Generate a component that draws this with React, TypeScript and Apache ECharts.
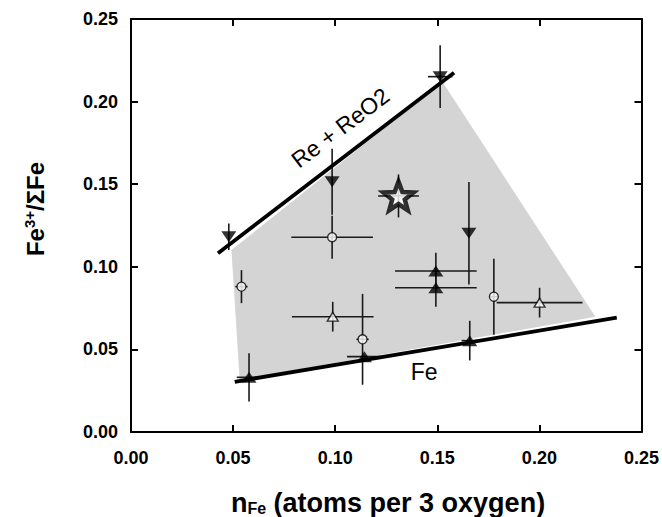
import React, { useEffect, useRef } from "react";
import * as echarts from "echarts";

// Axis ticks
const xTicks = [0, 0.05, 0.1, 0.15, 0.2, 0.25];
const yTicks = [0, 0.05, 0.1, 0.15, 0.2, 0.25];

// Data rows: [nFe, Fe3+/ΣFe, xError, yError]
const filledDown = [
  [0.0479, 0.1182, 0, 0.008],
  [0.1514, 0.2151, 0.006, 0.019],
  [0.0985, 0.1515, 0, 0.02],
  [0.1655, 0.1203, 0, 0.031],
];
const filledUp = [
  [0.1493, 0.0975, 0.02, 0.011],
  [0.1493, 0.0873, 0.02, 0.0115],
  [0.1143, 0.0456, 0.0085, 0],
  [0.0578, 0.0331, 0.006, 0.0146],
  [0.1659, 0.0553, 0.004, 0.012],
];
const openCircle = [
  [0.0985, 0.1179, 0.02, 0.013],
  [0.0541, 0.088, 0.003, 0.01],
  [0.1134, 0.0561, 0.003, 0.0275],
  [0.1777, 0.0819, 0.002, 0.023],
];
const openUp = [
  [0.0988, 0.0698, 0.02, 0.009],
  [0.2001, 0.0783, 0.021, 0.009],
];
const starPoint = [[0.131, 0.1429, 0.01, 0.013]];

// Buffer lines and shaded field
const reLine = [
  [0.0426, 0.1082],
  [0.1582, 0.2175],
];
const feLine = [
  [0.0508, 0.0304],
  [0.2379, 0.0692],
];
const field = [
  [0.0492, 0.1102],
  [0.1525, 0.212],
  [0.2274, 0.0698],
  [0.0532, 0.0315],
];

// Line labels: text, position in data units, rotation (deg)
const lineLabelText = ["Re + ReO2", "Fe"];
const lineLabelPos = [
  [0.1025, 0.1842],
  [0.1436, 0.0362],
];
const lineLabelRot = [37, 0];

const FONT = "'Liberation Sans', Arial, Helvetica, sans-serif";

const starPath =
  "path://" +
  Array.from({ length: 10 }, (_, i) => {
    const a = -Math.PI / 2 + (i * Math.PI) / 5;
    const r = i % 2 ? 21 : 50;
    return `${i ? "L" : "M"}${(50 + r * Math.cos(a)).toFixed(2)} ${(50 + r * Math.sin(a)).toFixed(2)}`;
  }).join(" ") +
  " Z";

const allPoints = [...filledDown, ...filledUp, ...openCircle, ...openUp, ...starPoint];

export default function App() {
  const ref = useRef<HTMLDivElement>(null);
  useEffect(() => {
    if (!ref.current) return;
    const chart = echarts.init(ref.current, undefined, { renderer: "svg" });
    const axisLine = { onZero: false, lineStyle: { color: "#000", width: 2 } };
    const axisTick = { inside: true, length: 7, lineStyle: { color: "#000", width: 2 } };
    const labelStyle = {
      fontSize: 18,
      fontWeight: "bold" as const,
      color: "#000",
      fontFamily: FONT,
      formatter: (v: number) => v.toFixed(2),
    };
    chart.setOption({
      animation: false,
      backgroundColor: "#fff",
      textStyle: { fontFamily: FONT },
      grid: { left: 131, right: 19, top: 19, bottom: 85 },
      xAxis: [
        {
          type: "value",
          min: xTicks[0],
          max: xTicks[xTicks.length - 1],
          interval: 0.05,
          position: "bottom",
          axisLine,
          axisTick,
          axisLabel: { ...labelStyle, margin: 17, showMinLabel: true, showMaxLabel: true },
          splitLine: { show: false },
        },
        {
          type: "value",
          min: xTicks[0],
          max: xTicks[xTicks.length - 1],
          interval: 0.05,
          position: "top",
          axisLine,
          axisTick,
          axisLabel: { show: false },
          splitLine: { show: false },
        },
      ],
      yAxis: [
        {
          type: "value",
          min: yTicks[0],
          max: yTicks[yTicks.length - 1],
          interval: 0.05,
          position: "left",
          axisLine,
          axisTick,
          axisLabel: { ...labelStyle, margin: 13 },
          splitLine: { show: false },
        },
        {
          type: "value",
          min: yTicks[0],
          max: yTicks[yTicks.length - 1],
          interval: 0.05,
          position: "right",
          axisLine,
          axisTick,
          axisLabel: { show: false },
          splitLine: { show: false },
        },
      ],
      graphic: [
        {
          type: "text",
          x: 388,
          y: 503,
          style: {
            text: "{m|n}{s|Fe}{m| (atoms per 3 oxygen)}",
            align: "center",
            verticalAlign: "middle",
            rich: {
              m: { fontSize: 27, fontWeight: "bold", fontFamily: FONT, fill: "#000", lineHeight: 26 },
              s: {
                fontSize: 16,
                fontWeight: "bold",
                fontFamily: FONT,
                fill: "#000",
                verticalAlign: "bottom",
                lineHeight: 12,
              },
            },
          },
        },
        {
          type: "text",
          x: 35,
          y: 209,
          rotation: Math.PI / 2,
          style: {
            text: "{m|Fe}{p|3+}{m|/ΣFe}",
            align: "center",
            verticalAlign: "middle",
            rich: {
              m: { fontSize: 24, fontWeight: "bold", fontFamily: FONT, fill: "#000", lineHeight: 26 },
              p: {
                fontSize: 15,
                fontWeight: "bold",
                fontFamily: FONT,
                fill: "#000",
                verticalAlign: "top",
                lineHeight: 13,
              },
            },
          },
        },
      ],
      series: [
        {
          type: "custom",
          name: "field",
          z: 1,
          silent: true,
          data: field,
          renderItem: (params: any, api: any) => {
            if (params.dataIndex !== 0) return null;
            return {
              type: "polygon",
              shape: { points: field.map((p) => api.coord(p)) },
              style: { fill: "#d4d4d4", stroke: "none" },
            };
          },
        },
        {
          type: "custom",
          name: "errors",
          z: 3,
          silent: true,
          data: allPoints,
          encode: { x: 0, y: 1 },
          renderItem: (params: any, api: any) => {
            const x = api.value(0);
            const y = api.value(1);
            const xe = api.value(2);
            const ye = api.value(3);
            const children: any[] = [];
            const st = { stroke: "#1a1a1a", lineWidth: 1.6 };
            if (xe > 0) {
              const a = api.coord([x - xe, y]);
              const b = api.coord([x + xe, y]);
              children.push({ type: "line", shape: { x1: a[0], y1: a[1], x2: b[0], y2: b[1] }, style: st });
            }
            if (ye > 0) {
              const a = api.coord([x, y - ye]);
              const b = api.coord([x, y + ye]);
              children.push({ type: "line", shape: { x1: a[0], y1: a[1], x2: b[0], y2: b[1] }, style: st });
            }
            return { type: "group", children };
          },
        },
        {
          type: "line",
          name: "Re + ReO2",
          z: 4,
          data: reLine,
          symbol: "none",
          lineStyle: { color: "#000", width: 3.8 },
          silent: true,
        },
        {
          type: "line",
          name: "Fe",
          z: 4,
          data: feLine,
          symbol: "none",
          lineStyle: { color: "#000", width: 3.8 },
          silent: true,
        },
        {
          type: "scatter",
          z: 5,
          data: filledDown.map((d) => [d[0], d[1]]),
          symbol: "triangle",
          symbolRotate: 180,
          symbolSize: [15, 11],
          itemStyle: { color: "#000" },
        },
        {
          type: "scatter",
          z: 5,
          data: filledUp.map((d) => [d[0], d[1]]),
          symbol: "triangle",
          symbolSize: [15, 11],
          itemStyle: { color: "#000" },
        },
        {
          type: "scatter",
          z: 5,
          data: openCircle.map((d) => [d[0], d[1]]),
          symbol: "circle",
          symbolSize: 9,
          itemStyle: { color: "#fff", borderColor: "#000", borderWidth: 1.3 },
        },
        {
          type: "scatter",
          z: 5,
          data: openUp.map((d) => [d[0], d[1]]),
          symbol: "triangle",
          symbolSize: [11, 9],
          itemStyle: { color: "#fff", borderColor: "#000", borderWidth: 1.3 },
        },
        {
          type: "scatter",
          z: 6,
          data: starPoint.map((d) => [d[0], d[1]]),
          symbol: starPath,
          symbolKeepAspect: true,
          symbolSize: 30,
          itemStyle: { color: "#fff", borderColor: "#000", borderWidth: 4.5 },
        },
        {
          type: "custom",
          name: "lineLabels",
          z: 7,
          silent: true,
          data: lineLabelPos,
          encode: { x: 0, y: 1 },
          renderItem: (params: any, api: any) => {
            const p = api.coord([api.value(0), api.value(1)]);
            return {
              type: "text",
              x: p[0],
              y: p[1],
              rotation: (lineLabelRot[params.dataIndex] * Math.PI) / 180,
              style: {
                text: lineLabelText[params.dataIndex],
                align: "center",
                verticalAlign: "middle",
                fontSize: 23,
                fontFamily: FONT,
                fill: "#000",
              },
            };
          },
        },
      ],
    });
    return () => chart.dispose();
  }, []);
  return (
    <div
      ref={ref}
      style={{ position: "absolute", left: 0, top: 0, width: 662, height: 517 }}
    />
  );
}
